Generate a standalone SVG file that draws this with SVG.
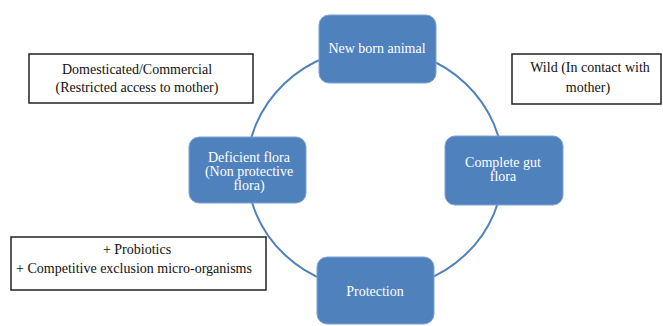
<svg xmlns="http://www.w3.org/2000/svg" width="663" height="326" viewBox="0 0 663 326">
<style>
.node rect{fill:#4f81bd;stroke:#7fa3d3;stroke-width:1}
.node text{fill:#ffffff;font-family:"Liberation Serif","DejaVu Serif",serif;font-size:14px;text-anchor:middle}
.note rect{fill:#ffffff;stroke:#222;stroke-width:1.5}
.note text{fill:#111;font-family:"Liberation Serif","DejaVu Serif",serif;font-size:14px;text-anchor:middle}
.conn{fill:none;stroke:#4f81bd;stroke-width:2}
</style>
<rect width="663" height="326" fill="#fff"/>
<g id="connectors">
<ellipse class="conn" cx="375" cy="169" rx="128" ry="121"/>
</g>
<g id="newborn" class="node">
<rect x="319" y="15" width="117" height="68" rx="10"/>
<text x="377" y="53">New born animal</text>
</g>
<g id="deficient" class="node">
<rect x="189" y="137" width="117" height="66" rx="10"/>
<text x="249" y="162">Deficient flora</text>
<text x="249" y="176">(Non protective</text>
<text x="249" y="190">flora)</text>
</g>
<g id="complete" class="node">
<rect x="445" y="136" width="118" height="69" rx="10"/>
<text x="503" y="167">Complete gut</text>
<text x="503" y="181">flora</text>
</g>
<g id="protection" class="node">
<rect x="317" y="257" width="117" height="67" rx="10"/>
<text x="375" y="296">Protection</text>
</g>
<g id="domesticated" class="note">
<rect x="29" y="54" width="224" height="49"/>
<text x="137" y="74">Domesticated/Commercial</text>
<text x="137" y="92">(Restricted access to mother)</text>
</g>
<g id="wild" class="note">
<rect x="512" y="54" width="149" height="50"/>
<text x="590" y="72">Wild (In contact with</text>
<text x="588" y="92">mother)</text>
</g>
<g id="probiotics" class="note">
<rect x="11" y="237" width="255" height="53"/>
<text x="137" y="254">+ Probiotics</text>
<text x="134" y="273">+ Competitive exclusion micro-organisms</text>
</g>
</svg>
